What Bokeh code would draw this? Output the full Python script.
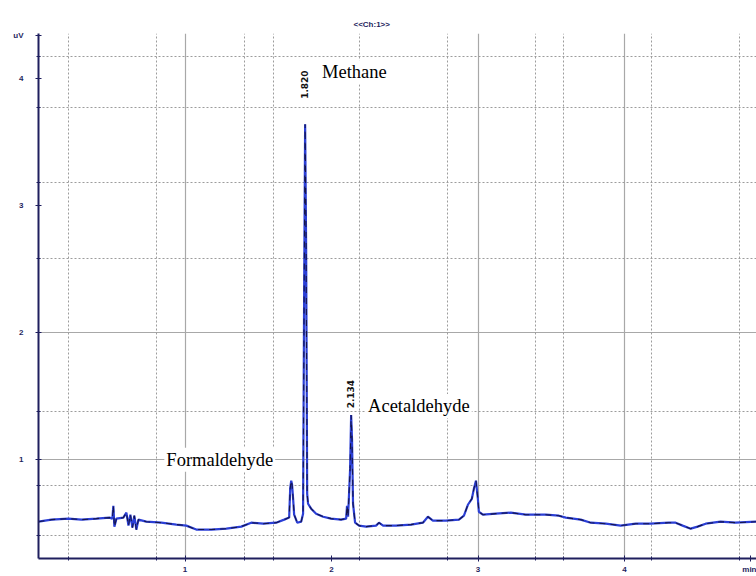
import math
from bokeh.plotting import figure
from bokeh.models import ColumnDataSource, FixedTicker, Grid, Label, Range1d
from bokeh.embed import file_html
from bokeh.resources import INLINE

# ---- data ----
time = [0.00, 0.089, 0.204, 0.293, 0.395, 0.484, 0.504, 0.511, 0.518, 0.532,
        0.579, 0.600, 0.614, 0.627, 0.641, 0.654, 0.668, 0.682, 0.736, 0.838,
        0.941, 1.009, 1.077, 1.179, 1.282, 1.384, 1.452, 1.534, 1.622, 1.677,
        1.711, 1.718, 1.725, 1.731, 1.738, 1.745, 1.766, 1.793, 1.806, 1.813,
        1.820, 1.827, 1.834, 1.840, 1.861, 1.895, 1.943, 1.997, 2.065, 2.100,
        2.106, 2.113, 2.127, 2.134, 2.140, 2.147, 2.161, 2.188, 2.236, 2.304,
        2.324, 2.352, 2.440, 2.543, 2.624, 2.658, 2.692, 2.781, 2.870, 2.904,
        2.931, 2.958, 2.972, 2.986, 2.999, 3.006, 3.033, 3.122, 3.224, 3.326,
        3.463, 3.552, 3.599, 3.701, 3.770, 3.872, 3.974, 4.077, 4.179, 4.301,
        4.349, 4.397, 4.452, 4.499, 4.554, 4.656, 4.758, 4.901]
signal = [0.514, 0.530, 0.538, 0.530, 0.538, 0.546, 0.538, 0.639, 0.475, 0.538,
          0.546, 0.585, 0.483, 0.569, 0.467, 0.561, 0.451, 0.530, 0.514, 0.506,
          0.491, 0.483, 0.452, 0.452, 0.459, 0.475, 0.506, 0.498, 0.506, 0.530,
          0.546, 0.773, 0.836, 0.804, 0.694, 0.569, 0.506, 0.514, 0.577, 2.260,
          3.638, 2.650, 0.733, 0.655, 0.616, 0.577, 0.553, 0.538, 0.530, 0.538,
          0.639, 0.553, 0.929, 1.352, 1.164, 0.655, 0.506, 0.483, 0.475, 0.483,
          0.506, 0.483, 0.483, 0.491, 0.506, 0.553, 0.522, 0.522, 0.530, 0.561,
          0.647, 0.694, 0.773, 0.836, 0.694, 0.592, 0.569, 0.577, 0.585, 0.569,
          0.569, 0.561, 0.546, 0.530, 0.506, 0.498, 0.483, 0.498, 0.498, 0.506,
          0.506, 0.483, 0.459, 0.475, 0.498, 0.514, 0.506, 0.514]

peak_names = ["Formaldehyde", "Methane", "Acetaldehyde"]
peak_label_x = [0.859, 1.922, 2.236]
peak_label_y = [1.000, 4.047, 1.423]

rt_texts = ["1.820", "2.134"]
rt_x = [1.813, 2.127]
rt_y = [3.95, 1.517]

x_major = [1, 2, 3, 4, 4.86]
x_labels = {4.86: "min"}
x_solid = [1, 3, 4]
x_dotted = [0.204, 0.804, 1.404, 1.602, 2.188, 2.795, 3.395, 3.586, 4.186, 4.785]
y_major = [1, 2, 3, 4, 4.337]
y_labels = {4.337: "uV"}
y_solid = [1, 2]
y_dotted = [0.405, 0.796, 1.384, 2.582, 3.178, 3.773, 4.172]

NAVY = "#1f1f5e"

src = ColumnDataSource(data=dict(t=time, y=signal))

p = figure(width=756, height=576, output_backend="svg", toolbar_location=None,
           x_range=Range1d(0, 4.901), y_range=Range1d(0.2245, 4.352),
           min_border_left=38, min_border_right=0, min_border_top=33,
           min_border_bottom=16)
p.outline_line_color = None
p.background_fill_color = "white"
p.border_fill_color = "white"

# title
p.title.text = "<<Ch:1>>"
p.title.text_font_size = "8px"
p.title.text_font_style = "bold"
p.title.text_color = NAVY
p.title.align = "left"
p.title.offset = 315
p.title.standoff = 10

# grids
p.xgrid.ticker = FixedTicker(ticks=x_solid)
p.xgrid.grid_line_color = "#a8a8a8"
p.xgrid.grid_line_width = 1.2
p.ygrid.ticker = FixedTicker(ticks=y_solid)
p.ygrid.grid_line_color = "#a8a8a8"
p.ygrid.grid_line_width = 1.2
p.add_layout(Grid(dimension=0, ticker=FixedTicker(ticks=x_dotted),
                  grid_line_color="#9c9c9c", grid_line_dash="2 2", grid_line_width=1))
p.add_layout(Grid(dimension=1, ticker=FixedTicker(ticks=y_dotted),
                  grid_line_color="#9c9c9c", grid_line_dash="2 2", grid_line_width=1))

# axes
for ax in (p.xaxis[0], p.yaxis[0]):
    ax.axis_line_color = NAVY
    ax.axis_line_width = 2
    ax.major_tick_line_color = NAVY
    ax.minor_tick_line_color = NAVY
    ax.major_tick_in = 3
    ax.major_tick_out = 3
    ax.minor_tick_in = 2
    ax.minor_tick_out = 2
    ax.major_label_text_font_size = "8px"
    ax.major_label_text_font_style = "bold"
    ax.major_label_text_color = NAVY
p.xaxis.ticker = FixedTicker(ticks=x_major, minor_ticks=x_dotted)
p.yaxis.ticker = FixedTicker(ticks=y_major, minor_ticks=y_dotted)
p.xaxis.major_label_overrides = x_labels
p.yaxis.major_label_overrides = y_labels
p.xaxis.major_label_standoff = 3
p.yaxis.major_label_standoff = 12

# trace
p.line("t", "y", source=src, line_color="#2b3fd6", line_width=2.2)
p.line("t", "y", source=src, line_color="#15154a", line_width=1.1, line_dash="6 5")

# peak name labels
for name, lx, ly in zip(peak_names, peak_label_x, peak_label_y):
    p.add_layout(Label(x=lx, y=ly, text=name, text_font="Liberation Serif",
                       text_font_size="18.5px", text_color="black",
                       text_baseline="middle", text_align="left",
                       background_fill_color="white", background_fill_alpha=1.0,
                       padding=2))

# retention time labels
for txt, rx, ry in zip(rt_texts, rt_x, rt_y):
    p.add_layout(Label(x=rx, y=ry, text=txt, angle=math.pi / 2,
                       text_font="DejaVu Sans", text_font_size="9px",
                       text_font_style="bold", text_color="#111111",
                       text_align="center", text_baseline="middle",
                       background_fill_color="white", background_fill_alpha=0.8))

open("out.html", "w").write(file_html(p, INLINE))
